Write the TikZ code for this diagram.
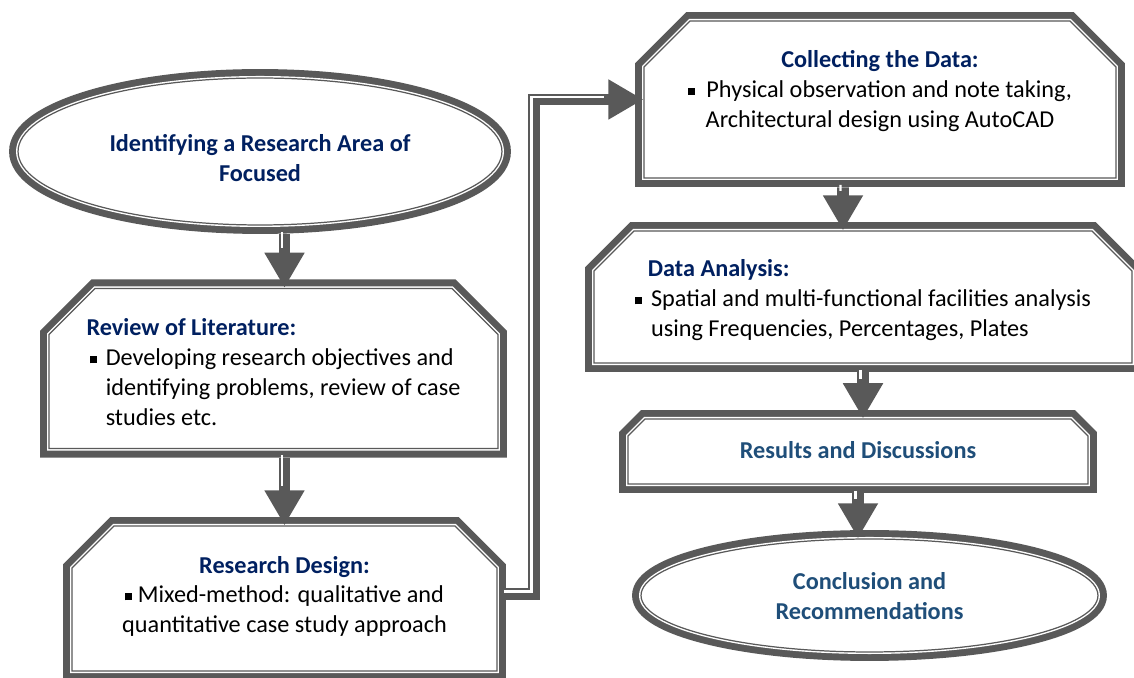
\documentclass[tikz,border=0pt]{standalone}
\usepackage{fontspec}
\setmainfont{Carlito}
\usepackage{tikz}
\usetikzlibrary{positioning,arrows.meta,shapes.misc,shapes.geometric}

\definecolor{bordergray}{HTML}{595959}
\definecolor{titlenavy}{HTML}{002060}
\definecolor{titleblue}{HTML}{1F4E79}

\newcommand{\sqb}{\rule[1.4pt]{4.2pt}{4.2pt}}

\tikzset{
    x=0.02cm,
    y=-0.02cm,
    stepfont/.style = {
        font=\fontsize{13.8}{17}\selectfont
    },
    frame/.style = {
        draw=bordergray,
        fill=white,
        line width=0.7pt,
        preaction={draw=bordergray, line width=10.2pt},
        preaction={draw=white, line width=2.3pt},
        inner sep=0pt,
        text depth=0pt,
        stepfont
    },
    box/.style = {
        frame,
        shape=chamfered rectangle,
        chamfered rectangle corners={north west,north east},
        chamfered rectangle xsep=0.46cm,
        chamfered rectangle ysep=0.46cm
    },
    oval/.style = {
        frame,
        shape=ellipse
    },
    head/.style = {
        font=\fontsize{13.8}{17}\selectfont\bfseries,
        text=titleblue
    },
    flow/.style = {
        draw=bordergray,
        line width=6.8pt,
        -{Triangle[width=21.5pt,length=20pt]},
        shorten <=5pt,
        postaction={draw=white, line width=1.3pt, -, shorten <=5pt,
            shorten >=21pt, transform canvas={shift={(-2.5,-2.5)}}}
    },
}

\begin{document}
\begin{tikzpicture}
    \useasboundingbox (0,0) rectangle (1134,678);

    % left column
    \node[oval, minimum width=9.68cm, minimum height=2.94cm,
          align=center, text height=33.9pt,
          font=\fontsize{13.8}{17}\selectfont\bfseries, text=titlenavy]
          (ident) at (260,151.5) {Identifying a Research Area of\\Focused};
    \node[box, minimum width=8.98cm, minimum height=3.14cm,
          align=left, text height=65pt]
          (review) at (273.5,368.5)
          {{\color{titlenavy}\bfseries Review of Literature:}\\
           \hspace*{1.7pt}\sqb\hspace{5pt}Developing research objectives and\\
           \hspace*{10.9pt}identifying problems, review of case\\
           \hspace*{10.9pt}studies etc.};
    \node[box, minimum width=8.5cm, minimum height=2.9cm,
          chamfered rectangle xsep=0.42cm, chamfered rectangle ysep=0.42cm,
          align=center, text height=39pt]
          (design) at (284.5,598.5)
          {{\color{titlenavy}\bfseries Research Design:}\\
           \sqb\ Mixed-method: qualitative and\\
           quantitative case study approach};

    % right column
    \node[box, minimum width=9.44cm, minimum height=3.14cm,
          align=center, text height=31.6pt]
          (collect) at (880,99.5)
          {{\color{titlenavy}\bfseries Collecting the Data:}\\
           \sqb\ \ Physical observation and note taking,\\
           Architectural design using AutoCAD};
    \node[box, minimum width=10.76cm, minimum height=2.64cm,
          chamfered rectangle xsep=0.4cm, chamfered rectangle ysep=0.4cm,
          align=left, text height=45.2pt]
          (data) at (863,297)
          {\hspace*{7.4pt}{\color{titlenavy}\bfseries Data Analysis:}\\
           \sqb\hspace{5pt}Spatial and multi-functional facilities analysis\\
           \hspace*{9.2pt}using Frequencies, Percentages, Plates};
    \node[box, head, minimum width=9.2cm, minimum height=1.3cm,
          chamfered rectangle xsep=0.2cm, chamfered rectangle ysep=0.2cm,
          text height=7.8pt]
          (results) at (858,451.5) {Results and Discussions};
    \node[oval, head, minimum width=9.14cm, minimum height=2.26cm,
          align=center, text height=27.6pt]
          (concl) at (869.5,595.5) {Conclusion and\\Recommendations};

    % connectors
    \coordinate (bend) at (534,594);
    \draw[flow] (ident.south -| design.north) -- (review.north -| design.north);
    \draw[flow] (review.south -| design.north) -- (design.north);
    \draw[flow] (design.east |- bend) -- (bend) |- (collect.west);
    \draw[flow] ([xshift=-0.74cm]collect.south) -- ([xshift=-0.4cm]data.north);
    \draw[flow] (data.south) -- (data.south |- results.north);
    \draw[flow] (results.south) -- (results.south |- concl.north);
\end{tikzpicture}
\end{document}
